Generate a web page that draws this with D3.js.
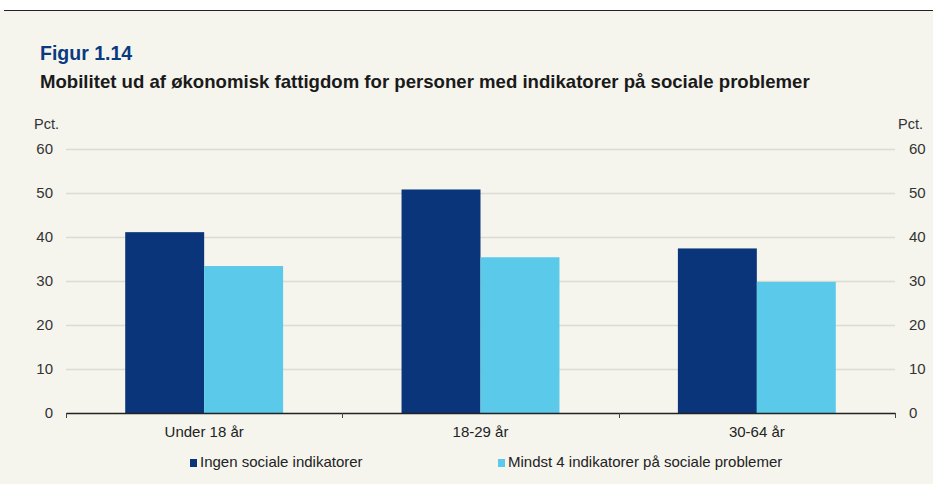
<!DOCTYPE html>
<html><head><meta charset="utf-8">
<script src="https://cdn.jsdelivr.net/npm/d3@7"></script>
<style>
html,body{margin:0;padding:0;background:#fff;}
svg{display:block;font-family:"Liberation Sans",Arial,sans-serif;}
</style></head>
<body>
<svg id="c" width="933" height="484"></svg>
<script>
const categories = ["Under 18 år", "18-29 år", "30-64 år"];
const seriesNames = ["Ingen sociale indikatorer", "Mindst 4 indikatorer på sociale problemer"];
const ingen = [41.1, 50.8, 37.4];
const mindst4 = [33.4, 35.4, 29.8];
const yTicks = [0, 10, 20, 30, 40, 50, 60];
const colors = ["#0a357a", "#5bc9ea"];

(function(){
const svg = d3.select("#c");
svg.append("rect").attr("x",0).attr("y",10).attr("width",933).attr("height",474).attr("fill","#f5f5ee");
svg.append("line").attr("x1",4).attr("x2",933).attr("y1",10.5).attr("y2",10.5).attr("stroke","#222").attr("stroke-width",1.2);

svg.append("text").attr("x",40).attr("y",60).attr("fill","#0a3a80")
  .attr("font-size",19.5).attr("font-weight","bold").text("Figur 1.14");
svg.append("text").attr("x",40).attr("y",88).attr("fill","#1a1a1a")
  .attr("font-size",18.6).attr("font-weight","bold")
  .text("Mobilitet ud af økonomisk fattigdom for personer med indikatorer på sociale problemer");

const pL = 66, pR = 895, pT = 149, pB = 413;
const x = d3.scaleBand().domain(categories).range([pL, pR]).paddingInner(0).paddingOuter(0);
const y = d3.scaleLinear().domain([0, 60]).range([pB, pT]);
const xs = d3.scaleBand().domain([0,1]).range([0, x.bandwidth()]).paddingInner(0).paddingOuter(0.75);

svg.append("g").selectAll("line").data(yTicks.filter(d=>d>0)).join("line")
  .attr("x1",pL).attr("x2",pR).attr("y1",d=>Math.round(y(d))+0.5).attr("y2",d=>Math.round(y(d))+0.5)
  .attr("stroke","#dcdcd4").attr("stroke-width",1.3);

const yl = d3.axisLeft(y).tickValues(yTicks).tickSize(0).tickPadding(13);
const gl = svg.append("g").attr("transform",`translate(${pL},0)`).call(yl);
gl.select(".domain").remove();
gl.selectAll("text").attr("font-size",15).attr("fill","#333").attr("font-family","Liberation Sans, Arial, sans-serif");
const yr = d3.axisRight(y).tickValues(yTicks).tickSize(0).tickPadding(14);
const gr = svg.append("g").attr("transform",`translate(${pR},0)`).call(yr);
gr.select(".domain").remove();
gr.selectAll("text").attr("font-size",15).attr("fill","#333").attr("font-family","Liberation Sans, Arial, sans-serif");

svg.append("text").attr("x",34).attr("y",129).attr("font-size",14.5).attr("fill","#333").text("Pct.");
svg.append("text").attr("x",898).attr("y",129).attr("font-size",14.5).attr("fill","#333").text("Pct.");

const data = categories.map((c,i)=>({c, v:[ingen[i], mindst4[i]]}));
const g = svg.append("g");
data.forEach(d=>{
  d.v.forEach((v,j)=>{
    g.append("rect").attr("x",x(d.c)+xs(j)).attr("width",xs.bandwidth())
      .attr("y",y(v)).attr("height",y(0)-y(v)).attr("fill",colors[j]);
  });
});

const xa = d3.axisBottom(x).tickSize(0).tickPadding(13);
const gx = svg.append("g").attr("transform",`translate(0,${pB})`).call(xa);
gx.select(".domain").attr("stroke","#222").attr("stroke-width",1.3);
gx.selectAll("text").attr("font-size",15).attr("fill","#222").attr("font-family","Liberation Sans, Arial, sans-serif");
const bounds = [pL, ...categories.slice(1).map(c=>x(c)), pR];
svg.append("g").selectAll("line").data(bounds).join("line")
  .attr("x1",d=>Math.round(d)+0.5).attr("x2",d=>Math.round(d)+0.5).attr("y1",pB).attr("y2",pB+5)
  .attr("stroke","#444").attr("stroke-width",1);

const lg = svg.append("g");
const legendX = [190, 498];
seriesNames.forEach((n,i)=>{
  lg.append("rect").attr("x",legendX[i]).attr("y",459).attr("width",7).attr("height",8).attr("fill",colors[i]);
  lg.append("text").attr("x",legendX[i]+10).attr("y",467).attr("font-size",15).attr("fill","#222").text(n);
});
})();
</script>
</body></html>
